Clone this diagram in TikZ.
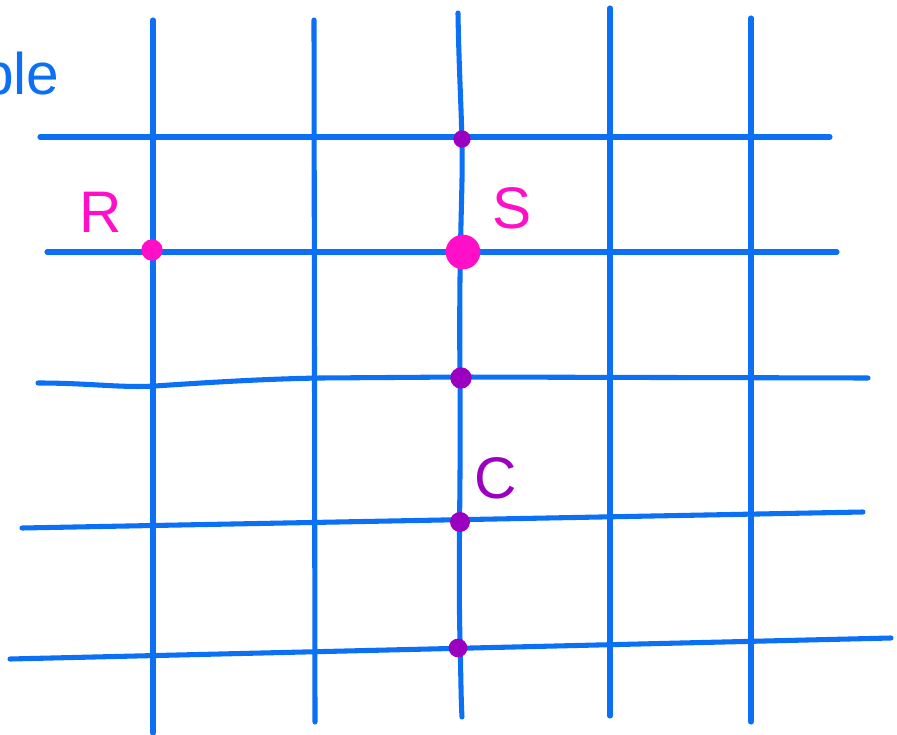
\documentclass[tikz,border=0pt]{standalone}
\usepackage{fontspec}
\setmainfont{Liberation Sans}
\definecolor{gridblue}{RGB}{12,112,245}
\definecolor{pmag}{RGB}{255,16,200}
\definecolor{ppur}{RGB}{155,0,192}
\begin{document}
\begin{tikzpicture}[x=0.75pt,y=-0.75pt,
  gridline/.style={draw=gridblue,line width=3.8pt,line cap=round},
  magdot/.style={circle,fill=pmag,inner sep=0pt,minimum size=#1},
  purdot/.style={ellipse,fill=ppur,inner sep=0pt,minimum size=#1},
  lbl/.style={font=\fontsize{44}{50}\selectfont,inner sep=0pt}]
\useasboundingbox (0,0) rectangle (897,735);
\clip (0,0) rectangle (897,735);
% vertical lines
\coordinate (v1t) at (153,20);  \coordinate (v1b) at (153,733);
\coordinate (v2t) at (314,20);  \coordinate (v2b) at (315,722);
\coordinate (v3t) at (458,13);  \coordinate (v3b) at (462,717);
\coordinate (v4t) at (610,8);   \coordinate (v4b) at (610,716);
\coordinate (v5t) at (751,18);  \coordinate (v5b) at (751,722);
\draw[gridline] (v1t) -- (v1b);
\draw[gridline] (v2t) -- (v2b);
\draw[gridline] (v3t) .. controls (459,80) and (463,130) .. (462,180)
  .. controls (461,230) and (459,280) .. (460,380)
  .. controls (461,480) and (458,560) .. (460,640)
  .. controls (461,680) and (461,700) .. (v3b);
\draw[gridline] (v4t) -- (v4b);
\draw[gridline] (v5t) -- (v5b);
% horizontal lines
\coordinate (h1l) at (40,137);  \coordinate (h1r) at (830,137);
\coordinate (h2l) at (47,252);  \coordinate (h2r) at (837,252);
\coordinate (h3l) at (38,383);  \coordinate (h3r) at (868,378);
\coordinate (h4l) at (22,528);  \coordinate (h4r) at (863,512);
\coordinate (h5l) at (10,659);  \coordinate (h5r) at (891,638);
\draw[gridline] (h1l) -- (h1r);
\draw[gridline] (h2l) -- (h2r);
\draw[gridline] (h3l) .. controls (90,383) and (120,388) .. (155,386)
  .. controls (200,383) and (260,379) .. (320,378) -- (460,377) -- (h3r);
\draw[gridline] (h4l) -- (h4r);
\draw[gridline] (h5l) -- (h5r);
% dots
\node[circle,fill=ppur,inner sep=0pt,minimum size=13pt] (d1) at (462,139) {};
\node[magdot=16pt] (R) at (152,250) {};
\node[magdot=26pt] (S) at (463,252) {};
\node[circle,fill=ppur,inner sep=0pt,minimum size=16pt] (d3) at (461,378) {};
\node[circle,fill=ppur,inner sep=0pt,minimum size=15pt] (C) at (460,522) {};
\node[circle,fill=ppur,inner sep=0pt,minimum size=14pt] (d5) at (458,648) {};
% labels
\node[lbl,text=pmag] (Rl) at (101,212) {R};
\node[lbl,text=pmag] (Sl) at (512,208) {S};
\node[lbl,text=ppur] (Cl) at (496,478) {C};
\node[lbl,text=gridblue,anchor=base west] (ble) at (-19,95) {ble};
\end{tikzpicture}
\end{document}
